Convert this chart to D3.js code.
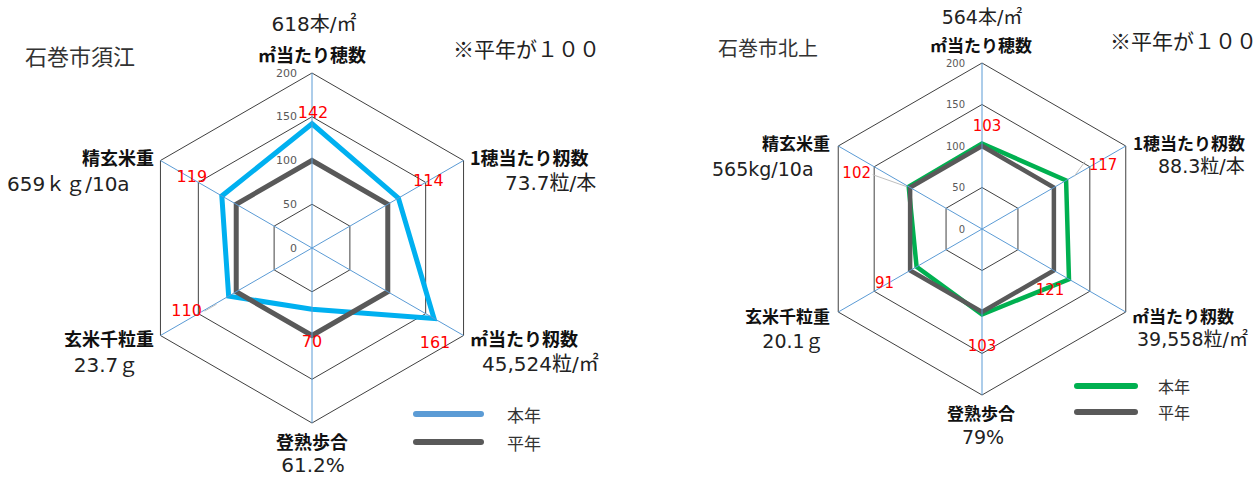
<!DOCTYPE html>
<html>
<head>
<meta charset="utf-8">
<script src="https://cdn.jsdelivr.net/npm/d3@7"></script>
<style>
  html, body { margin: 0; padding: 0; background: #fff; }
  svg { display: block; }
  .jp { font-family: "Noto Sans CJK JP", "Noto Sans", sans-serif; }
  .num { font-family: "DejaVu Sans", "Noto Sans CJK JP", sans-serif; }
</style>
</head>
<body>
<svg id="chart" width="1258" height="477"></svg>
<script>
// Axis names, clockwise from the top
const axes = ["㎡当たり穂数", "1穂当たり籾数", "㎡当たり籾数", "登熟歩合", "玄米千粒重", "精玄米重"];
// Index values (normal year = 100)
const sueThisYear = [142, 114, 161, 70, 110, 119];
const kitakamiThisYear = [103, 117, 121, 103, 91, 102];
const normalYear = [100, 100, 100, 100, 100, 100];
// Measured values printed under each axis name
const sueMeasured = ["618本/㎡", "73.7粒/本", "45,524粒/㎡", "61.2%", "23.7ｇ", "659ｋｇ/10a"];
const kitakamiMeasured = ["564本/㎡", "88.3粒/本", "39,558粒/㎡", "79%", "20.1ｇ", "565kg/10a"];
const radialTicks = [0, 50, 100, 150, 200];
const seriesNames = ["本年", "平年"];
const places = ["石巻市須江", "石巻市北上"];
const note = "※平年が１００";

const svg = d3.select("#chart");
const N = axes.length;
const angleOf = i => i * 2 * Math.PI / N;

function drawRadar(cfg) {
  const g = svg.append("g");
  const r = d3.scaleLinear().domain([0, 200]).range([0, cfg.radius]);
  const pt = (i, v) => [cfg.cx + r(v) * Math.sin(angleOf(i)), cfg.cy - r(v) * Math.cos(angleOf(i))];
  const radial = d3.lineRadial()
    .angle((d, i) => angleOf(i))
    .radius(d => r(d))
    .curve(d3.curveLinearClosed);
  const plot = g.append("g").attr("transform", `translate(${cfg.cx},${cfg.cy})`);

  // grid rings
  radialTicks.filter(t => t > 0).forEach(t => {
    plot.append("path")
      .attr("d", radial(axes.map(() => t)))
      .attr("fill", "none")
      .attr("stroke", "#404040")
      .attr("stroke-width", 1);
  });
  // spokes
  axes.forEach((a, i) => {
    const [x, y] = pt(i, 200);
    g.append("line")
      .attr("x1", cfg.cx).attr("y1", cfg.cy)
      .attr("x2", x).attr("y2", y)
      .attr("stroke", "#5b9bd5").attr("stroke-width", 1);
  });
  // radial tick labels
  radialTicks.forEach(t => {
    g.append("text").attr("class", "num")
      .attr("x", cfg.cx - cfg.tickGap)
      .attr("y", cfg.cy - r(t))
      .attr("text-anchor", "end")
      .attr("dominant-baseline", "central")
      .attr("font-size", cfg.tickSize)
      .attr("fill", "#595959")
      .text(t);
  });

  // series: this year first, normal year drawn over it
  plot.append("path")
    .attr("d", radial(cfg.values))
    .attr("fill", "none")
    .attr("stroke", cfg.color)
    .attr("stroke-width", cfg.lineWidth)
    .attr("stroke-linejoin", "miter");
  plot.append("path")
    .attr("d", radial(normalYear))
    .attr("fill", "none")
    .attr("stroke", "#595959")
    .attr("stroke-width", cfg.lineWidth)
    .attr("stroke-linejoin", "miter");

  // value labels with optional leader lines
  cfg.values.forEach((v, i) => {
    const [x, y] = pt(i, v);
    const off = cfg.labelOffsets[i];
    const lx = x + off[0], ly = y + off[1];
    if (off[2]) {
      g.append("line")
        .attr("x1", lx + off[2][0]).attr("y1", ly + off[2][1])
        .attr("x2", x + off[2][2]).attr("y2", y + off[2][3])
        .attr("stroke", "#bfbfbf").attr("stroke-width", 1);
    }
    g.append("text").attr("class", "num")
      .attr("x", lx).attr("y", ly)
      .attr("text-anchor", "middle")
      .attr("dominant-baseline", "central")
      .attr("font-size", cfg.labelSize)
      .attr("fill", "#ff0000")
      .text(v);
  });

  // axis names and measured values
  axes.forEach((a, i) => {
    const p = cfg.titlePos[i];
    g.append("text").attr("class", "jp")
      .attr("x", p[0]).attr("y", p[1])
      .attr("text-anchor", p[2])
      .attr("dominant-baseline", "central")
      .attr("font-size", cfg.titleSize)
      .attr("font-weight", 700)
      .attr("fill", "#111")
      .text(a);
    const q = cfg.valuePos[i];
    g.append("text").attr("class", "num")
      .attr("x", q[0]).attr("y", q[1])
      .attr("text-anchor", q[2])
      .attr("dominant-baseline", "central")
      .attr("font-size", cfg.valueSize)
      .attr("fill", "#222")
      .text(cfg.measured[i]);
  });

  // place name and note
  g.append("text").attr("class", "jp")
    .attr("x", cfg.place[0]).attr("y", cfg.place[1])
    .attr("dominant-baseline", "central")
    .attr("font-size", cfg.place[2])
    .attr("fill", "#333")
    .text(cfg.placeName);
  g.append("text").attr("class", "jp")
    .attr("x", cfg.note[0]).attr("y", cfg.note[1])
    .attr("dominant-baseline", "central")
    .attr("font-size", cfg.note[2])
    .attr("fill", "#222")
    .text(note);

  // legend
  const legendColors = [cfg.legendColor, "#595959"];
  seriesNames.forEach((s, k) => {
    const y = cfg.legend.y0 + k * cfg.legend.dy;
    g.append("line")
      .attr("x1", cfg.legend.x1).attr("x2", cfg.legend.x2)
      .attr("y1", y).attr("y2", y)
      .attr("stroke", legendColors[k])
      .attr("stroke-width", 6)
      .attr("stroke-linecap", "round");
    g.append("text").attr("class", "jp")
      .attr("x", cfg.legend.tx).attr("y", y)
      .attr("dominant-baseline", "central")
      .attr("font-size", cfg.legend.size)
      .attr("fill", "#333")
      .text(s);
  });
}

// 石巻市須江
drawRadar({
  cx: 312, cy: 248, radius: 175,
  values: sueThisYear, measured: sueMeasured, placeName: places[0],
  color: "#00b0f0", legendColor: "#5b9bd5", lineWidth: 5,
  tickGap: 15, tickSize: 11, labelSize: 16, titleSize: 18, valueSize: 20,
  labelOffsets: [[1, -11], [30, -18], [1, 24], [0, 32], [-42, 14, [18, 1, -12, 8]], [-30, -19]],
  titlePos: [[312, 54, "middle"], [470, 157, "start"], [470, 338, "start"], [312, 441, "middle"], [154, 338, "end"], [154, 157, "end"]],
  valuePos: [[314, 24, "middle"], [505, 183, "start"], [482, 364, "start"], [313, 465, "middle"], [106, 365, "middle"], [7, 184, "start"]],
  place: [25, 55, 22],
  note: [453, 48, 21],
  legend: { x1: 416, x2: 481, y0: 414, dy: 28, tx: 507, size: 17 }
});

// 石巻市北上
drawRadar({
  cx: 982, cy: 229, radius: 166,
  values: kitakamiThisYear, measured: kitakamiMeasured, placeName: places[1],
  color: "#00b050", legendColor: "#00b050", lineWidth: 4.5,
  tickGap: 17, tickSize: 10, labelSize: 15, titleSize: 17, valueSize: 19,
  labelOffsets: [[5, -18], [37, -15, [-18, -4, 8, -4]], [-19, 11], [0, 32], [-32, 16], [-52, -14, [16, 2, -2, 0]]],
  titlePos: [[981, 44, "middle"], [1133, 142, "start"], [1132, 315, "start"], [981, 412, "middle"], [830, 315, "end"], [830, 142, "end"]],
  valuePos: [[982, 17, "middle"], [1158, 166, "start"], [1137, 339, "start"], [983, 437, "middle"], [793, 341, "middle"], [712, 169, "start"]],
  place: [718, 47, 20],
  note: [1110, 40, 21],
  legend: { x1: 1077, x2: 1135, y0: 386, dy: 26, tx: 1158, size: 16 }
});
</script>
</body>
</html>
